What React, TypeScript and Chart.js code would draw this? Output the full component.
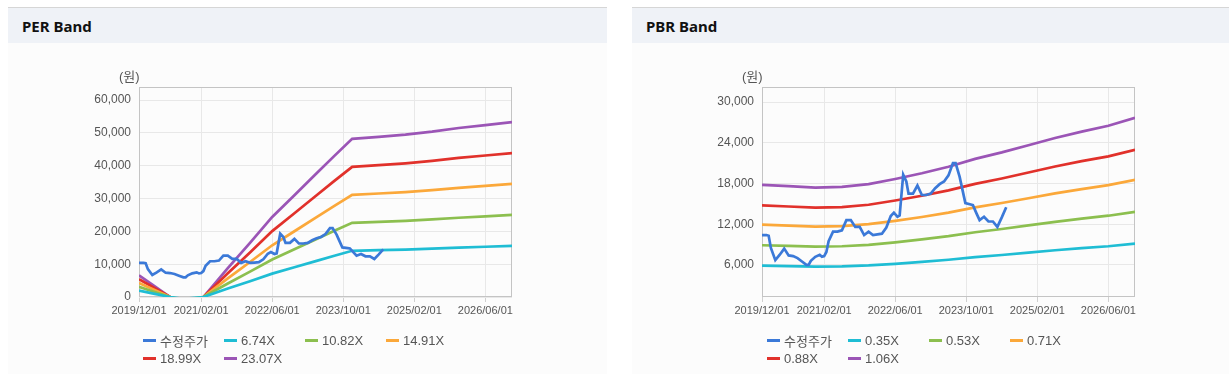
import React, { useEffect, useRef } from "react";
import { Chart, registerables } from "chart.js";
Chart.register(...registerables);

// ---------- data ----------
const xTickLabels = ["2019/12/01", "2021/02/01", "2022/06/01", "2023/10/01", "2025/02/01", "2026/06/01"];
const xStart = "2019/12/01";
const xEnd = "2026/12/01";

const priceName = "수정주가";
const priceDates = [
  "2019/12/01", "2020/01/01", "2020/01/16", "2020/02/01", "2020/03/01", "2020/04/01", "2020/05/01", "2020/06/01",
  "2020/07/01", "2020/08/01", "2020/09/01", "2020/10/01", "2020/10/16", "2020/11/01", "2020/12/01", "2021/01/01",
  "2021/01/16", "2021/02/01", "2021/02/16", "2021/03/01", "2021/04/01", "2021/05/01", "2021/06/01", "2021/07/01",
  "2021/08/01", "2021/09/01", "2021/10/01", "2021/11/01", "2021/12/01", "2022/01/01", "2022/02/01", "2022/03/01",
  "2022/04/01", "2022/05/01", "2022/05/22", "2022/06/16", "2022/07/01", "2022/07/25", "2022/08/16", "2022/09/01",
  "2022/10/01", "2022/11/01", "2022/12/01", "2023/01/01", "2023/02/01", "2023/03/01", "2023/04/01", "2023/05/01",
  "2023/06/01", "2023/07/01", "2023/07/19", "2023/08/16", "2023/09/01", "2023/09/25", "2023/11/01", "2023/11/16",
  "2023/12/10", "2024/01/01", "2024/02/01", "2024/03/01", "2024/04/01", "2024/05/01", "2024/06/01", "2024/07/01",
];
const priceValues = [
  10400, 10400, 10300, 8500, 6700, 7500, 8400, 7400,
  7300, 7000, 6500, 6000, 6000, 6600, 7200, 7500,
  7200, 7300, 7900, 9500, 10900, 10900, 11100, 12600,
  12600, 11600, 11600, 10400, 10900, 10400, 10500, 10600,
  11500, 13200, 13700, 13100, 13300, 19300, 18300, 16500,
  16500, 17700, 16300, 16300, 16500, 17300, 17900, 18300,
  19200, 21000, 21000, 19000, 17500, 15100, 14900, 14800,
  13600, 12600, 13100, 12400, 12400, 11600, 13000, 14500,
];

// PER band
const perNames = ["6.74X", "10.82X", "14.91X", "18.99X", "23.07X"];
const perDates = [
  "2019/12/01", "2020/03/01", "2020/07/01", "2020/10/01", "2021/02/16", "2021/08/01", "2022/01/01", "2022/06/01",
  "2022/11/01", "2023/04/01", "2023/08/01", "2023/12/01", "2024/06/01", "2024/12/01", "2025/06/01", "2025/12/01",
  "2026/06/01", "2026/12/01",
];
const per674 = [1930, 1110, 0, -580, 0, 2570, 4820, 7130, 9060, 11020, 12560, 14080, 14260, 14460, 14730, 15050, 15310, 15570];
const per1082 = [3100, 1780, 0, -940, 0, 4130, 7740, 11440, 14540, 17680, 20170, 22610, 22890, 23220, 23640, 24150, 24580, 25000];
const per1491 = [4270, 2460, 0, -1290, 0, 5690, 10660, 15770, 20040, 24370, 27790, 31150, 31540, 31990, 32570, 33280, 33870, 34450];
const per1899 = [5430, 3130, 0, -1650, 0, 7240, 13580, 20080, 25520, 31030, 35390, 39670, 40170, 40740, 41480, 42390, 43130, 43870];
const per2307 = [6600, 3800, 0, -2000, 0, 8800, 16500, 24400, 31000, 37700, 43000, 48200, 48800, 49500, 50400, 51500, 52400, 53300];
const perYTicks = [0, 10000, 20000, 30000, 40000, 50000, 60000];

// PBR band
const pbrNames = ["0.35X", "0.53X", "0.71X", "0.88X", "1.06X"];
const pbrDates = [
  "2019/12/01", "2020/06/01", "2020/12/01", "2021/06/01", "2021/12/01", "2022/06/01", "2022/12/01", "2023/06/01",
  "2023/12/01", "2024/06/01", "2024/12/01", "2025/06/01", "2025/12/01", "2026/06/01", "2026/12/01",
];
const pbr035 = [5880, 5810, 5740, 5780, 5920, 6160, 6440, 6760, 7140, 7460, 7810, 8160, 8470, 8750, 9140];
const pbr053 = [8900, 8800, 8690, 8750, 8960, 9330, 9750, 10230, 10810, 11290, 11820, 12350, 12830, 13250, 13830];
const pbr071 = [11930, 11790, 11640, 11720, 12000, 12500, 13060, 13700, 14480, 15120, 15830, 16540, 17180, 17750, 18530];
const pbr088 = [14780, 14610, 14430, 14520, 14870, 15490, 16190, 16980, 17950, 18740, 19620, 20500, 21300, 22000, 22970];
const pbr106 = [17810, 17600, 17380, 17490, 17910, 18660, 19500, 20460, 21620, 22580, 23640, 24700, 25650, 26500, 27670];
const pbrYTicks = [6000, 12000, 18000, 24000, 30000];

const COLORS = ["#3b79d8", "#1fbdd4", "#8cbf4f", "#fba83a", "#e1312b", "#9b55b6"];

// ---------- helpers ----------
function monthIndex(s: string): number {
  const [y, m, d] = s.split("/").map(Number);
  return (y - 2019) * 12 + (m - 12) + (d - 1) / 30;
}
function pts(dates: string[], vals: number[]) {
  return dates.map((d, i) => ({ x: monthIndex(d), y: vals[i] }));
}

const FONT = '"Liberation Sans", Arial, "Noto Sans CJK KR", sans-serif';

const framePlugin = {
  id: "frame",
  beforeDatasetsDraw(chart: any) {
    const { ctx, chartArea } = chart;
    const { left, top, right, bottom } = chartArea;
    ctx.save();
    ctx.strokeStyle = "#c4c4c4";
    ctx.lineWidth = 1;
    ctx.strokeRect(Math.round(left) + 0.5, Math.round(top) + 0.5, Math.round(right - left) - 1, Math.round(bottom - top) - 1);
    ctx.restore();
  },
};

type BandProps = {
  bandDates: string[];
  bands: number[][];
  yMin: number;
  yMax: number;
  yTicks: number[];
  yWidth: number;
  padRight: number;
};

function BandChart(props: BandProps) {
  const ref = useRef<HTMLCanvasElement | null>(null);
  useEffect(() => {
    if (!ref.current) return;
    const datasets: any[] = [
      {
        data: pts(priceDates, priceValues),
        borderColor: COLORS[0],
        borderWidth: 2.7,
      },
      ...props.bands.map((b, i) => ({
        data: pts(props.bandDates, b),
        borderColor: COLORS[i + 1],
        borderWidth: 2.7,
      })),
    ];
    const chart = new Chart(ref.current, {
      type: "line",
      data: { datasets },
      plugins: [framePlugin],
      options: {
        animation: false,
        responsive: false,
        maintainAspectRatio: false,
        devicePixelRatio: 1,
        layout: { padding: { top: 43, right: props.padRight, bottom: 47, left: 0 } },
        elements: { point: { radius: 0, hoverRadius: 0 }, line: { tension: 0 } },
        plugins: { legend: { display: false }, tooltip: { enabled: false } },
        scales: {
          x: {
            type: "linear",
            min: monthIndex(xStart),
            max: monthIndex(xEnd),
            border: { display: false },
            grid: { color: "#e8e8e8", tickLength: 5, tickColor: "#d0d0d0", drawTicks: true },
            afterBuildTicks: (axis: any) => {
              axis.ticks = xTickLabels.map((l) => ({ value: monthIndex(l) }));
            },
            afterFit: (axis: any) => {
              axis.height = 30;
            },
            ticks: {
              autoSkip: false,
              maxRotation: 0,
              padding: 2,
              color: "#555",
              font: { family: FONT, size: 11 },
              callback: (_v: any, i: number) => xTickLabels[i],
            },
          },
          y: {
            type: "linear",
            min: props.yMin,
            max: props.yMax,
            border: { display: false },
            grid: { color: "#e8e8e8", drawTicks: false },
            afterBuildTicks: (axis: any) => {
              axis.ticks = props.yTicks.map((v) => ({ value: v }));
            },
            afterFit: (axis: any) => {
              axis.width = props.yWidth;
            },
            ticks: {
              padding: 8,
              color: "#555",
              font: { family: FONT, size: 12 },
              callback: (v: any) => Number(v).toLocaleString("en-US"),
            },
          },
        },
      } as any,
    });
    return () => chart.destroy();
  }, []);
  return <canvas ref={ref} width={props.yWidth + 373 + props.padRight} height={330} style={{ display: "block" }} />;
}

function Legend({ names, left }: { names: string[]; left: number }) {
  const all = [priceName, ...names];
  return (
    <div style={{ position: "absolute", left, top: 331, width: 330, display: "flex", flexWrap: "wrap" }}>
      {all.map((n, i) => (
        <div key={n} style={{ width: 81, height: 18, display: "flex", alignItems: "center", font: `13px ${FONT}`, color: "#555", whiteSpace: "nowrap" }}>
          <span style={{ display: "inline-block", width: 13, height: 3, background: COLORS[i], marginRight: 4 }} />
          <span>{n}</span>
        </div>
      ))}
    </div>
  );
}

function Panel({ left, width, title, children }: { left: number; width: number; title: string; children: any }) {
  return (
    <>
      <div style={{ position: "absolute", left, top: 43, width, height: 331, background: "#fcfcfc" }} />
      <div
        style={{
          position: "absolute", left, top: 7, width, height: 36, boxSizing: "border-box",
          borderTop: "1px solid #d6d6d6", background: "#eff2f7", paddingLeft: 14,
          font: 'bold 15px "Noto Sans", "Liberation Sans", sans-serif', color: "#111", lineHeight: "37px",
        }}
      >
        {title}
      </div>
      {children}
    </>
  );
}

export default function App() {
  return (
    <div style={{ position: "absolute", left: 0, top: 0, width: 1229, height: 374, background: "#fff", overflow: "hidden" }}>
      <Panel left={8} width={599} title="PER Band">
        <div style={{ position: "absolute", left: 0, top: 44 }}>
          <BandChart bandDates={perDates} bands={[per674, per1082, per1491, per1899, per2307]} yMin={0} yMax={64000} yTicks={perYTicks} yWidth={139} padRight={95} />
        </div>
        <div style={{ position: "absolute", left: 119, top: 66, font: `13px ${FONT}`, color: "#555" }}>(원)</div>
        <Legend names={perNames} left={143} />
      </Panel>
      <Panel left={632} width={597} title="PBR Band">
        <div style={{ position: "absolute", left: 632, top: 44 }}>
          <BandChart bandDates={pbrDates} bands={[pbr035, pbr053, pbr071, pbr088, pbr106]} yMin={1270} yMax={32220} yTicks={pbrYTicks} yWidth={130} padRight={94} />
        </div>
        <div style={{ position: "absolute", left: 742, top: 66, font: `13px ${FONT}`, color: "#555" }}>(원)</div>
        <Legend names={pbrNames} left={767} />
      </Panel>
    </div>
  );
}
